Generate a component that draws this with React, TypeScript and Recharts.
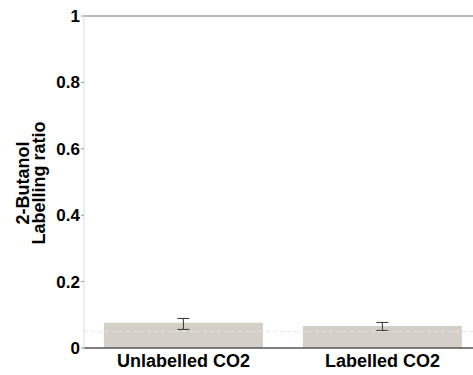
import { BarChart, Bar, XAxis, YAxis, ReferenceLine, ErrorBar, Label } from 'recharts';

const categories = ['Unlabelled CO2', 'Labelled CO2'];
const ratios = [0.076, 0.066];
const errLow = [0.02, 0.013];
const errHigh = [0.013, 0.011];
const yTicks = [0, 0.2, 0.4, 0.6, 0.8, 1];

const data = categories.map((name, i) => ({
  name,
  ratio: ratios[i],
  err: [errLow[i], errHigh[i]],
}));

const font = '"Liberation Sans", Arial, sans-serif';

function YLabel(props: any) {
  const vb = props.viewBox || {};
  const cy = vb.y + vb.height / 2 + 1;
  const common = { textAnchor: 'middle' as const, fontFamily: font, fontWeight: 'bold', fontSize: 18, fill: '#000' };
  return (
    <g>
      <text transform={`translate(29, ${cy}) rotate(-90)`} {...common}>2-Butanol</text>
      <text transform={`translate(45, ${cy}) rotate(-90)`} {...common}>Labelling ratio</text>
    </g>
  );
}

export default function App() {
  return (
    <div style={{ position: 'fixed', left: 0, top: 0, width: 473, height: 375, overflow: 'hidden', background: '#fff' }}>
      <BarChart
        width={490}
        height={375}
        data={data}
        margin={{ top: 16, right: 8, left: 0, bottom: 0 }}
        barCategoryGap="10%"
      >
        <XAxis
          dataKey="name"
          height={27}
          axisLine={{ stroke: '#555', strokeWidth: 1.5 }}
          tickLine={false}
          tickSize={0}
          tickMargin={6}
          tick={{ fontSize: 18, fill: '#000', fontFamily: font, fontWeight: 'bold' }}
        />
        <YAxis
          width={84}
          domain={[0, 1]}
          ticks={yTicks}
          tickFormatter={(v) => String(v)}
          axisLine={{ stroke: '#ddd' }}
          tickLine={{ stroke: '#999' }}
          tickSize={3}
          tickMargin={1}
          tick={{ fontSize: 17, fill: '#000', fontFamily: font, fontWeight: 'bold' }}
        >
          <Label content={<YLabel />} />
        </YAxis>
        <ReferenceLine y={1} stroke="#bbb" strokeWidth={2} />
        <Bar dataKey="ratio" fill="#d4d0c8" isAnimationActive={false}>
          <ErrorBar dataKey="err" width={6} stroke="#333" strokeWidth={1} />
        </Bar>
        <ReferenceLine y={0.05} stroke="#e6e6e6" strokeDasharray="4 3" />
      </BarChart>
    </div>
  );
}
